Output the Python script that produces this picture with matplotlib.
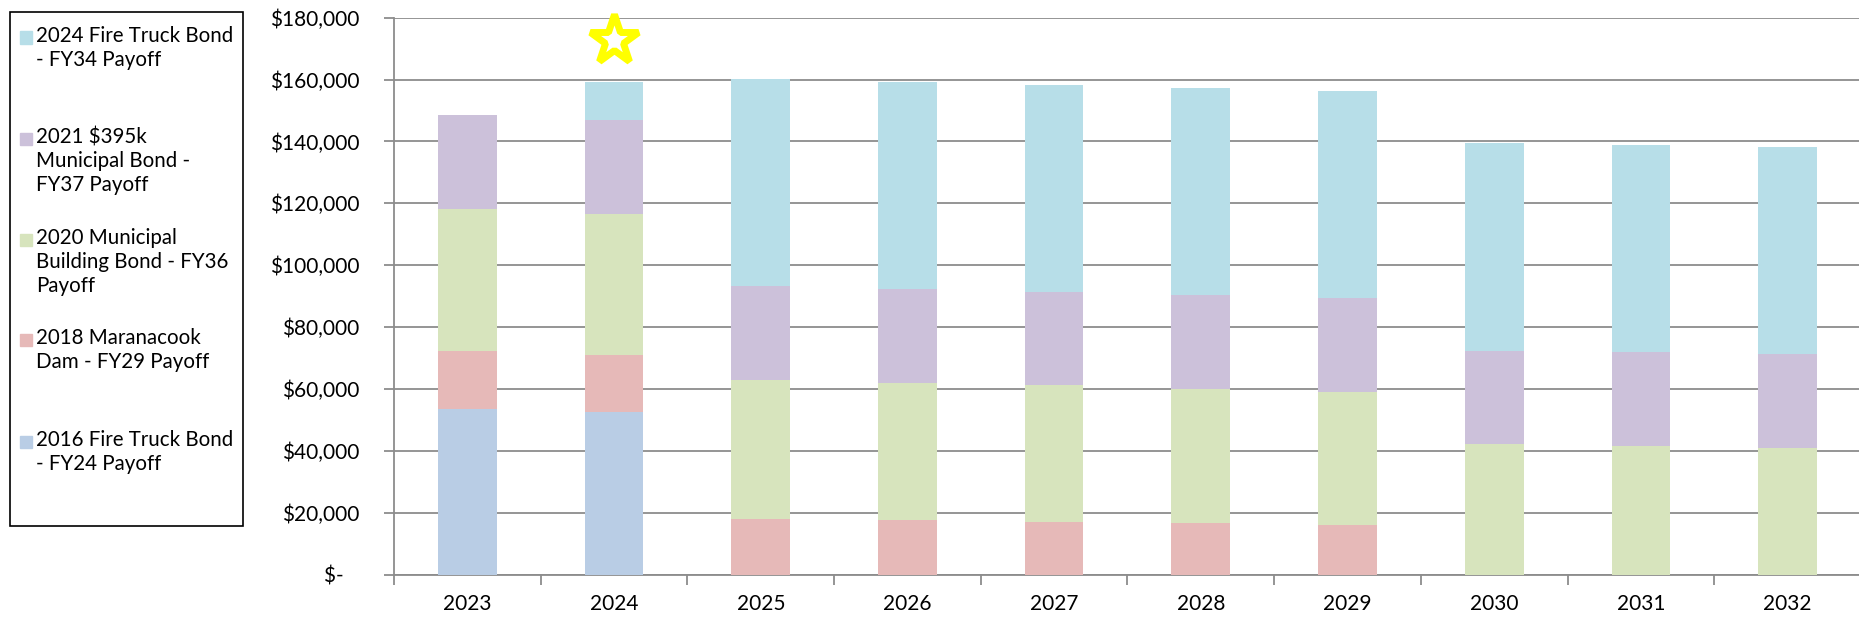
import matplotlib.pyplot as plt
from matplotlib.patches import Rectangle
from matplotlib.ticker import FuncFormatter, MultipleLocator

# --- data ---
years = ["2023", "2024", "2025", "2026", "2027", "2028", "2029", "2030", "2031", "2032"]

fire_truck_2016 = [53400, 52600, 0, 0, 0, 0, 0, 0, 0, 0]
maranacook_2018 = [18800, 18300, 17900, 17500, 17100, 16600, 16150, 0, 0, 0]
municipal_bldg_2020 = [45900, 45600, 45100, 44400, 44050, 43400, 42900, 42200, 41600, 40850]
municipal_395k_2021 = [30600, 30400, 30300, 30550, 30100, 30200, 30200, 30200, 30200, 30300]
fire_truck_2024 = [0, 12300, 66900, 66800, 67000, 67000, 66900, 67000, 66900, 66900]

series_labels = [
    "2016 Fire Truck Bond\n- FY24 Payoff",
    "2018 Maranacook\nDam - FY29 Payoff",
    "2020 Municipal\nBuilding Bond - FY36\nPayoff",
    "2021 $395k\nMunicipal Bond -\nFY37 Payoff",
    "2024 Fire Truck Bond\n- FY34 Payoff",
]
series_colors = ["#B9CDE5", "#E6B9B8", "#D7E4BD", "#CCC1DA", "#B7DEE8"]

star_year = "2024"
star_value = 172700

plt.rcParams['font.family'] = ['Lato', 'DejaVu Sans']

fig = plt.figure(figsize=(18.59, 6.43), dpi=100)
ax = fig.add_axes([0.212, 0.1065, 0.789, 0.866])

series = [fire_truck_2016, maranacook_2018, municipal_bldg_2020,
          municipal_395k_2021, fire_truck_2024]
x = list(range(len(years)))
bottom = [0] * len(years)
for vals, color in zip(series, series_colors):
    ax.bar(x, vals, width=0.4, bottom=bottom, color=color, zorder=3)
    bottom = [b + v for b, v in zip(bottom, vals)]

# star marker above 2024
ax.plot(years.index(star_year), star_value, marker='*', markersize=37,
        markerfacecolor='white', markeredgecolor='#FFFF00',
        markeredgewidth=5, zorder=4, clip_on=False)

# axes styling, Excel-like
ax.set_xlim(-0.5, len(years) - 0.5)
ax.set_ylim(0, 180000)
ax.yaxis.set_major_locator(MultipleLocator(20000))
ax.yaxis.set_major_formatter(FuncFormatter(
    lambda v, p: "$-   " if v == 0 else f"${v:,.0f}"))
ax.grid(axis='y', color='#8C8C8C', linewidth=1.3, zorder=0)
ax.set_axisbelow(True)

ax.set_xticks(x)
ax.set_xticklabels(years)
ax.set_xticks([i - 0.5 for i in range(len(years) + 1)], minor=True)
ax.tick_params(axis='x', which='major', length=0, pad=14, labelsize=15)
ax.tick_params(axis='x', which='minor', length=7, width=1.3, color='#8C8C8C')
ax.tick_params(axis='y', length=7, width=1.3, color='#8C8C8C', pad=18, labelsize=15)

for side in ['top', 'right']:
    ax.spines[side].set_visible(False)
for side in ['left', 'bottom']:
    ax.spines[side].set_color('#8C8C8C')
    ax.spines[side].set_linewidth(1.3)

# legend box on the left, top entry = top of stack
W, H = 1859.0, 643.0
fig.patches.append(Rectangle((10 / W, 1 - 526 / H), 233 / W, 514 / H,
                             transform=fig.transFigure, fill=False,
                             edgecolor='black', linewidth=1.2))
entry_tops = [32, 133, 234, 334, 436]
for top, lab, col in zip(entry_tops, series_labels[::-1], series_colors[::-1]):
    fig.patches.append(Rectangle((19.5 / W, 1 - (top + 11.5) / H), 12 / W, 12 / H,
                                 transform=fig.transFigure, color=col))
    fig.text(36.5 / W, 1 - (top - 6) / H, lab, fontsize=14.8, va='top', ha='left',
             linespacing=1.25)

fig.savefig("out.png", dpi=100)
